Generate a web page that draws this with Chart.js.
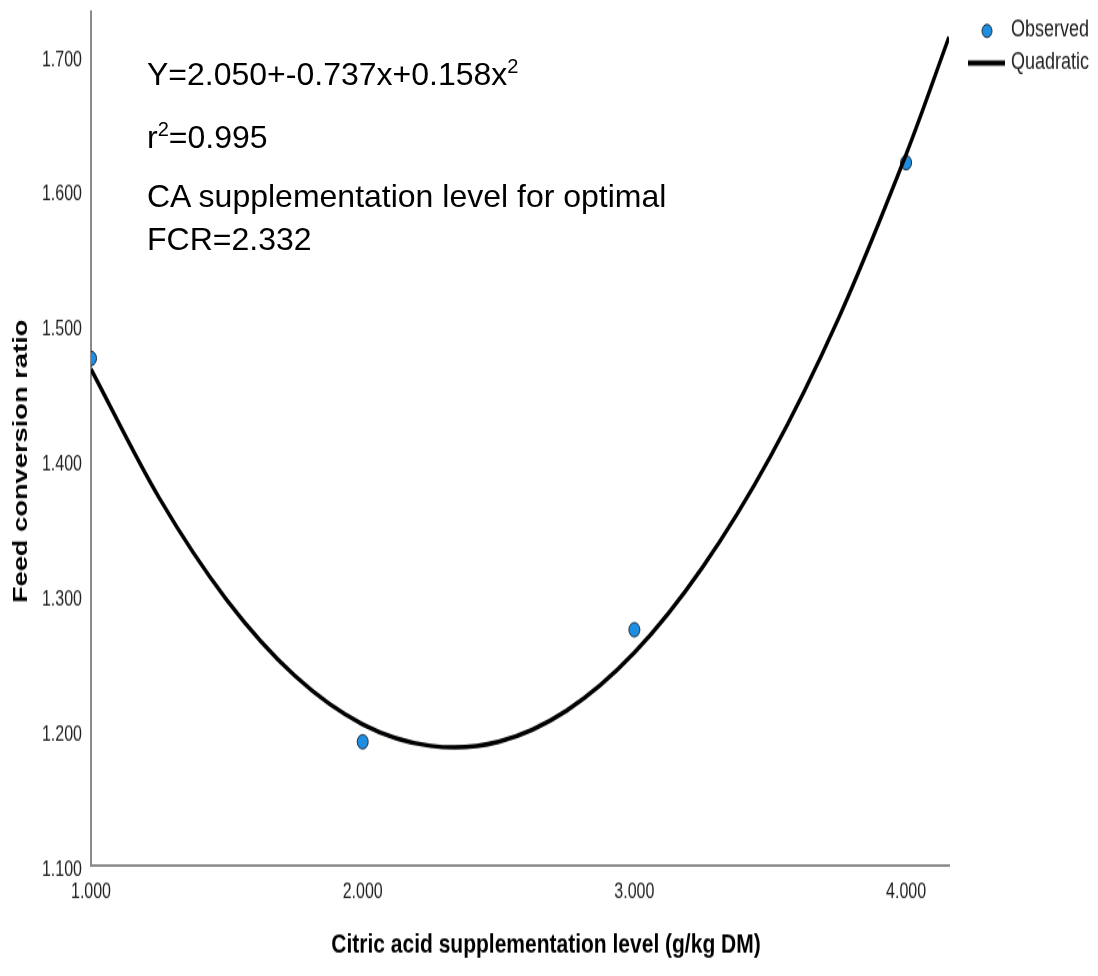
<!DOCTYPE html>
<html>
<head>
<meta charset="utf-8">
<title>Feed conversion ratio – quadratic fit</title>
<script src="https://cdn.jsdelivr.net/npm/chart.js@4.4.1/dist/chart.umd.min.js"></script>
<style>
  html, body { margin: 0; padding: 0; background: #fff; }
  #wrap { position: relative; width: 1098px; height: 976px; overflow: hidden; }
  /* the bitmap is drawn shorter and stretched to full height */
  #fcrChart { position: absolute; left: 0; top: 0; width: 1098px !important; height: 976px !important; }
  .note {
    position: absolute; left: 147px; color: #000; white-space: nowrap;
    font: 32px "Liberation Sans", Arial, sans-serif; line-height: 32px;
  }
  .note sup { font-size: 20px; line-height: 0; vertical-align: 12px; }
</style>
</head>
<body>
<div id="wrap">
  <canvas id="fcrChart" width="1098" height="751" style="width:1098px;height:976px"></canvas>
  <div class="note" style="top:58px">Y=2.050+-0.737x+0.158x<sup>2</sup></div>
  <div class="note" style="top:121px">r<sup>2</sup>=0.995</div>
  <div class="note" style="top:180px">CA supplementation level for optimal</div>
  <div class="note" style="top:223px">FCR=2.332</div>
</div>
<script>
// Axis ticks
const xTicks = [1, 2, 3, 4];
const yTicks = [1.1, 1.2, 1.3, 1.4, 1.5, 1.6, 1.7];

// Observed FCR per citric acid level
const levels = [1, 2, 3, 4];
const observedFcr = [1.479, 1.195, 1.278, 1.624];

// Fitted quadratic curve
const fitLevels = [1.0, 1.25, 1.5, 1.75, 2.0, 2.25, 2.5, 2.75, 3.0, 3.25, 3.5, 3.75, 4.0, 4.158];
const fitFcr = [1.471, 1.376, 1.300, 1.244, 1.208, 1.192, 1.195, 1.218, 1.261, 1.324, 1.406, 1.508, 1.630, 1.717];

const FONT = '"Liberation Sans", Arial, sans-serif';
const POINT_FILL = "#1f8ee0";
const POINT_EDGE = "#1b2a3a";

// Axis titles and legend, drawn on top of the plot
const chartText = {
  id: "chartText",
  afterDraw(chart) {
    const ctx = chart.ctx;
    ctx.save();
    ctx.fillStyle = "#000";
    ctx.textAlign = "center";
    ctx.textBaseline = "middle";
    ctx.font = "bold 21px " + FONT;
    ctx.fillText("Citric acid supplementation level (g/kg DM)", 546, 727);

    ctx.save();
    ctx.translate(21, 355);
    ctx.rotate(-Math.PI / 2);
    ctx.font = "bold 21px " + FONT;
    ctx.fillText("Feed conversion ratio", 0, 0);
    ctx.restore();

    // legend
    ctx.beginPath();
    ctx.arc(987, 23.8, 5, 0, Math.PI * 2);
    ctx.fillStyle = POINT_FILL;
    ctx.fill();
    ctx.lineWidth = 1;
    ctx.strokeStyle = POINT_EDGE;
    ctx.stroke();

    ctx.beginPath();
    ctx.moveTo(968, 48.5);
    ctx.lineTo(1005, 48.5);
    ctx.lineWidth = 4;
    ctx.strokeStyle = "#000";
    ctx.stroke();

    ctx.fillStyle = "#222";
    ctx.textAlign = "left";
    ctx.font = "18px " + FONT;
    ctx.fillText("Observed", 1011, 23.5);
    ctx.fillText("Quadratic", 1011, 48.5);
    ctx.restore();
  },
};

const ctx = document.getElementById("fcrChart").getContext("2d");
new Chart(ctx, {
  type: "scatter",
  data: {
    datasets: [
      {
        label: "Observed",
        data: levels.map((x, i) => ({ x, y: observedFcr[i] })),
        pointRadius: 5.5,
        pointBackgroundColor: POINT_FILL,
        pointBorderColor: POINT_EDGE,
        pointBorderWidth: 1,
        showLine: false,
        order: 2,
      },
      {
        label: "Quadratic",
        data: fitLevels.map((x, i) => ({ x, y: fitFcr[i] })),
        showLine: true,
        pointRadius: 0,
        borderColor: "#000",
        borderWidth: 3.5,
        tension: 0.33,
        fill: false,
        order: 1,
      },
    ],
  },
  options: {
    responsive: false,
    animation: false,
    events: [],
    layout: { padding: { top: 9.2, right: 149, left: 0, bottom: 0 } },
    plugins: {
      legend: { display: false },
      tooltip: { enabled: false },
    },
    scales: {
      x: {
        type: "linear",
        position: "bottom",
        min: 1,
        max: 4.158,
        grid: { display: false, drawTicks: false },
        border: { display: true, color: "#8a8a8a", width: 2 },
        ticks: {
          padding: 11,
          color: "#222",
          font: { family: FONT, size: 16 },
          callback: (v) => Number(v).toFixed(3),
        },
        afterBuildTicks: (scale) => {
          scale.ticks = xTicks.map((v) => ({ value: v }));
        },
        afterFit: (scale) => {
          scale.height = 85.4;
          scale.paddingLeft = 0;
          scale.paddingRight = 0;
        },
      },
      y: {
        type: "linear",
        position: "left",
        min: 1.1037,
        max: 1.7356,
        grid: { display: false, drawTicks: false },
        border: { display: true, color: "#8a8a8a", width: 2 },
        ticks: {
          padding: 9,
          color: "#222",
          font: { family: FONT, size: 16 },
          callback: (v) => Number(v).toFixed(3),
        },
        afterBuildTicks: (scale) => {
          scale.ticks = yTicks.map((v) => ({ value: v }));
        },
        afterFit: (scale) => {
          scale.width = 91;
          scale.paddingTop = 0;
          scale.paddingBottom = 0;
        },
      },
    },
  },
  plugins: [chartText],
});
</script>
</body>
</html>
